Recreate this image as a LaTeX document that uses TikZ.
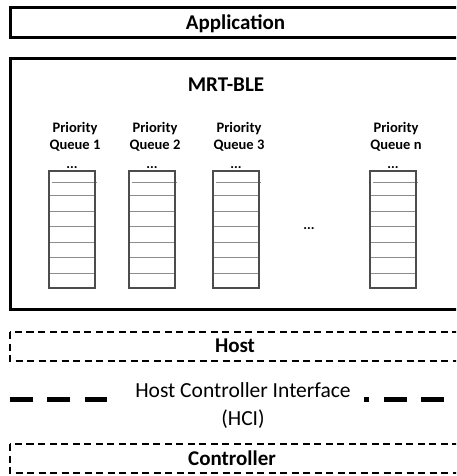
\documentclass[tikz,border=0pt]{standalone}
\usepackage{fontspec}
\setmainfont{Carlito}
\begin{document}
\begin{tikzpicture}[x=1pt,y=-1pt,
  layerbox/.style={draw, line width=3pt},
  dashbox/.style={draw, line width=2pt, dash pattern=on 7pt off 4.5pt},
  qframe/.style={draw=black!70, line width=1.4pt},
  qrow/.style={draw=black!45, line width=1pt},
  bigtext/.style={font=\fontsize{21}{26}\selectfont\bfseries, inner sep=0pt},
  qlabel/.style={font=\fontsize{14.5}{16.5}\selectfont\bfseries, align=center, inner sep=0pt},
  qdots/.style={font=\fontsize{14}{16}\selectfont\bfseries, inner sep=0pt},
  hcidash/.style={line width=5pt, dash pattern=on 22.5pt off 14.9pt},
  hcitext/.style={font=\fontsize{21.5}{28}\selectfont, align=center, fill=white, inner xsep=13pt, inner ysep=2pt}]
\useasboundingbox (0,0) rectangle (456,476);
\clip (0,0) rectangle (456,476);

% Application layer
\draw[layerbox] (10,8) rectangle (470,38);
\node[bigtext, anchor=base] (app) at (235.5,30) {Application};

% MRT-BLE layer with its priority queues
\draw[layerbox] (10,59) rectangle (470,309);
\node[bigtext, anchor=base] (mrt) at (226,92) {MRT-BLE};

\foreach \x/\lab in {49/1, 129/2, 213/3, 370/n} {
  \node[qlabel] (lab\lab) at (\x+26,137) {Priority\\Queue \lab};
  \node[qdots, anchor=base] (dots\lab) at (\x+23,168) {.{}.{}.};
  \foreach \y in {195,211,226,242,257,273}
    \draw[qrow] (\x,\y) -- (\x+46,\y);
  \draw[qrow] (\x+3,182) -- (\x+48,182);
  \draw[qframe] (\x,171) rectangle (\x+46,288);
}
\node[qdots, anchor=base] (middots) at (309,229) {.{}.{}.};

% Host layer
\draw[dashbox] (10,332) rectangle (470,361);
\node[bigtext, anchor=base] (host) at (235,352) {Host};

% Host Controller Interface
\coordinate (hl) at (10,399);
\coordinate (hr) at (470,399);
\draw[hcidash] (hl) -- (hr);
\node[hcitext] (hci) at (243,406) {Host Controller Interface\\(HCI)};

% Controller layer
\draw[dashbox] (10,444) rectangle (470,473);
\node[bigtext, anchor=base] (ctrl) at (232,465) {Controller};
\end{tikzpicture}
\end{document}
